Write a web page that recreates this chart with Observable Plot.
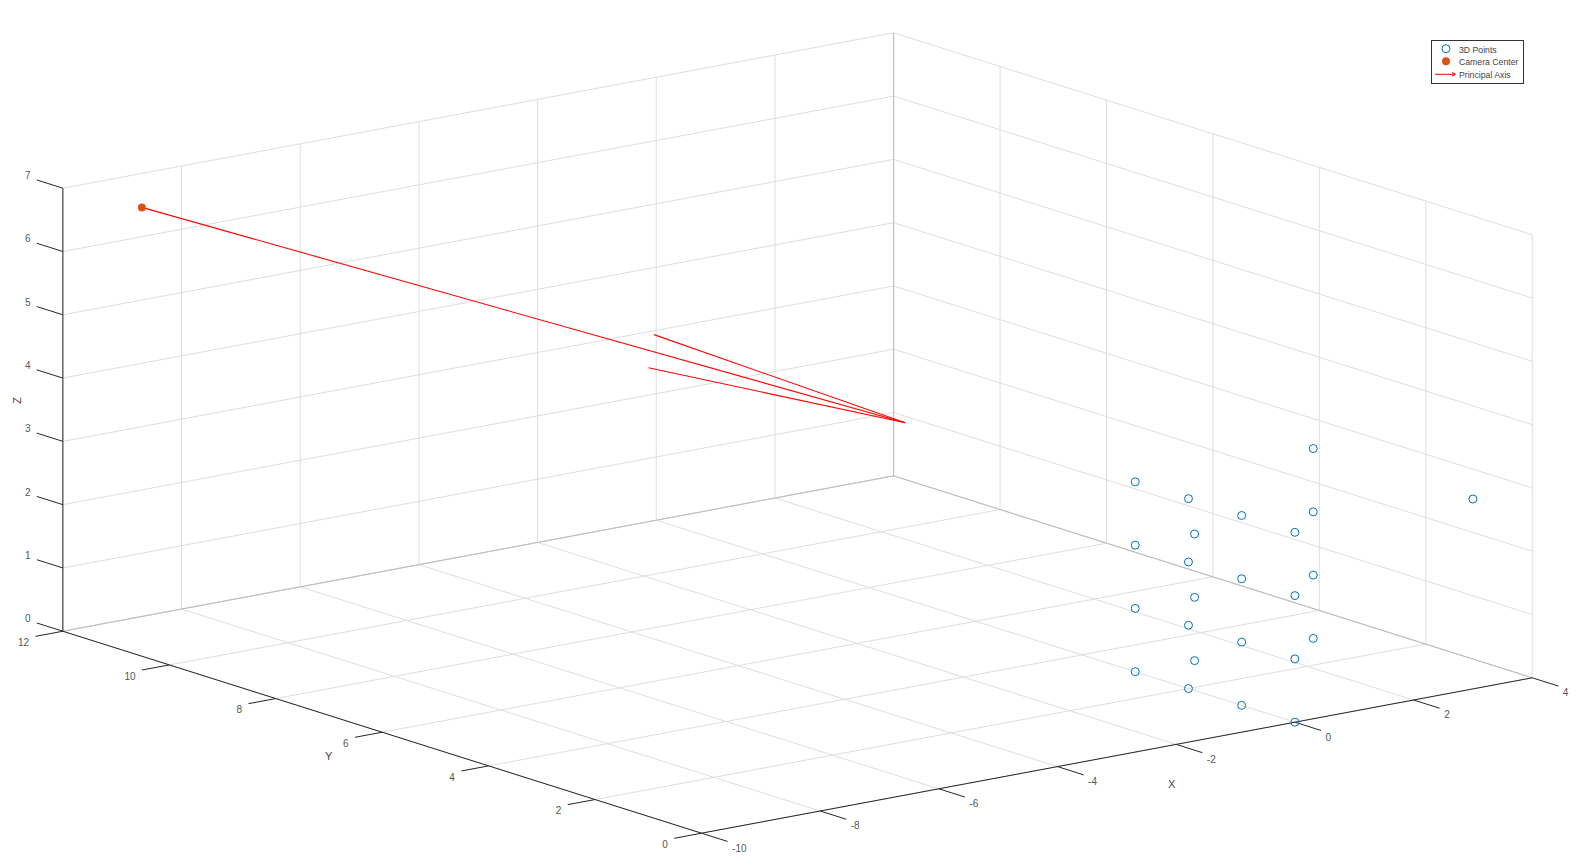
<!DOCTYPE html>
<html>
<head>
<meta charset="utf-8">
<script src="https://cdn.jsdelivr.net/npm/d3@7"></script>
<script src="https://cdn.jsdelivr.net/npm/@observablehq/plot@0.6"></script>
<style>
html,body{margin:0;padding:0;background:#fff;overflow:hidden}
#chart{position:relative;width:1583px;height:861px}
#legend{position:absolute;left:1431px;top:40px;width:93px;height:44px;box-sizing:border-box;border:1px solid #333;background:#fff;font:8.7px "Liberation Sans",sans-serif;color:#444}
#legend svg{position:absolute;left:0;top:0}
#legend span{position:absolute;left:27px;white-space:nowrap;line-height:12px}
</style>
</head>
<body>
<div id="chart">
  <div id="legend">
    <svg width="91" height="42">
      <circle cx="14" cy="7.7" r="4" fill="none" stroke="#0072BD"/>
      <circle cx="14" cy="20.3" r="4" fill="#D95319"/>
      <path d="M3 33.3H23M20 31.5L23.5 33.3L20 35.1" fill="none" stroke="#ff0000"/>
    </svg>
    <span style="top:2.6px">3D Points</span>
    <span style="top:15.4px">Camera Center</span>
    <span style="top:27.6px">Principal Axis</span>
  </div>
</div>
<script>
// Axis ticks
const xTicks = [-10, -8, -6, -4, -2, 0, 2, 4];
const yTicks = [0, 2, 4, 6, 8, 10, 12];
const zTicks = [0, 1, 2, 3, 4, 5, 6, 7];
const xMin = -10, xMax = 4, yMin = 0, yMax = 12, zMin = 0, zMax = 7;

// 3D points
const pointX = [0,0,0,0, 0,0,0,0, 0,0,0,0, 0,0,0,0, 3,3,3,3, 1,1,1, 3];
const pointY = [0,0,0,0, 1,1,1,1, 2,2,2,2, 3,3,3,3, 3,3,3,3, 3,3,3, 0];
const pointZ = [0,1,2,3, 0,1,2,3, 0,1,2,3, 0,1,2,3, 0,1,2,3, 0,1,2, 3];

// Camera centre and principal axis arrow, as [X, Y, Z]
const cameraCenter = [-9, 11.63, 6.62];
const arrowTip = [-6.18, 0.43, 5.7];
const arrowBarbA = [-7.16, 4.06, 6.3];
const arrowBarbB = [-7.27, 4.04, 5.8];

// Fixed orthographic view of the Octave figure
const view = {ox: 701, oy: 832.7, xx: 59.34, xy: -11.1, yx: -53.22, yy: -16.83, zy: -63.29};
const sx = ([X, Y]) => view.ox + (X - xMin) * view.xx + (Y - yMin) * view.yx;
const sy = ([X, Y, Z]) => view.oy + (X - xMin) * view.xy + (Y - yMin) * view.yy + (Z - zMin) * view.zy;

const seg = (a, b) => ({a, b});
const gridSegs = [
  ...xTicks.flatMap(x => [seg([x,yMin,zMin],[x,yMax,zMin]), seg([x,yMax,zMin],[x,yMax,zMax])]),
  ...yTicks.flatMap(y => [seg([xMin,y,zMin],[xMax,y,zMin]), seg([xMax,y,zMin],[xMax,y,zMax])]),
  ...zTicks.flatMap(z => [seg([xMin,yMax,z],[xMax,yMax,z]), seg([xMax,yMax,z],[xMax,yMin,z])])
];
const edgeSegs = [
  seg([xMin,yMax,zMin],[xMax,yMax,zMin]),
  seg([xMax,yMax,zMin],[xMax,yMin,zMin]),
  seg([xMax,yMax,zMin],[xMax,yMax,zMax])
];
const axisSegs = [
  seg([xMin,yMin,zMin],[xMax,yMin,zMin]),
  seg([xMin,yMin,zMin],[xMin,yMax,zMin]),
  seg([xMin,yMax,zMin],[xMin,yMax,zMax])
];
const xTickPos = xTicks.map(t => ({t, a:[t,yMin,zMin], b:[t,yMin-0.49,zMin]}));
const yTickPos = yTicks.map(t => ({t, a:[xMin,t,zMin], b:[xMin-0.46,t,zMin]}));
const zTickPos = zTicks.map(t => ({t, a:[xMin,yMax,t], b:[xMin,yMax+0.49,t]}));
const points = pointX.map((x, i) => [x, pointY[i], pointZ[i]]);
const arrowSegs = [seg(cameraCenter, arrowTip), seg(arrowBarbA, arrowTip), seg(arrowBarbB, arrowTip)];

const links = (data, o) => Plot.link(data, {
  x1: d => sx(d.a), y1: d => sy(d.a), x2: d => sx(d.b), y2: d => sy(d.b), ...o
});
const tickLabels = (data, o) => Plot.text(data, {
  x: d => sx(d.b), y: d => sy(d.b), text: d => String(d.t), fontSize: 10, fill: "#555", ...o
});
const axisLabel = (text, pos, o) => Plot.text([pos], {
  x: sx, y: sy, text: () => text, fontSize: 11, fill: "#444", ...o
});

const svg = Plot.plot({
  width: 1583, height: 861,
  marginTop: 0, marginRight: 0, marginBottom: 0, marginLeft: 0,
  x: {type: "linear", domain: [0, 1583], range: [0, 1583], axis: null},
  y: {type: "linear", domain: [0, 861], range: [0, 861], axis: null},
  style: {background: "#fff", fontFamily: "'Liberation Sans', sans-serif"},
  marks: [
    links(gridSegs, {stroke: "#dedede", strokeWidth: 1}),
    links(edgeSegs, {stroke: "#bdbdbd", strokeWidth: 1}),
    links(axisSegs, {stroke: "#262626", strokeWidth: 1}),
    links(xTickPos, {stroke: "#262626", strokeWidth: 1}),
    links(yTickPos, {stroke: "#262626", strokeWidth: 1}),
    links(zTickPos, {stroke: "#262626", strokeWidth: 1}),
    tickLabels(xTickPos, {textAnchor: "start", dx: 4.5, dy: 7}),
    tickLabels(yTickPos, {textAnchor: "end", dx: -6.4, dy: 6.5}),
    tickLabels(zTickPos, {textAnchor: "end", dx: -6.2, dy: -4}),
    axisLabel("X", [-3, -1.03, -0.18], {}),
    axisLabel("Y", [-10.9, 6, -0.22], {}),
    axisLabel("Z", [-10, 12.85, 3.42], {rotate: -90}),
    links(arrowSegs, {stroke: "#ff0000", strokeWidth: 1.1}),
    Plot.dot(points, {x: sx, y: sy, r: 4, stroke: "#0072BD", strokeWidth: 1, fill: "none"}),
    Plot.dot([cameraCenter], {x: sx, y: sy, r: 4, fill: "#D95319"})
  ]
});
document.getElementById("chart").prepend(svg);
</script>
</body>
</html>
